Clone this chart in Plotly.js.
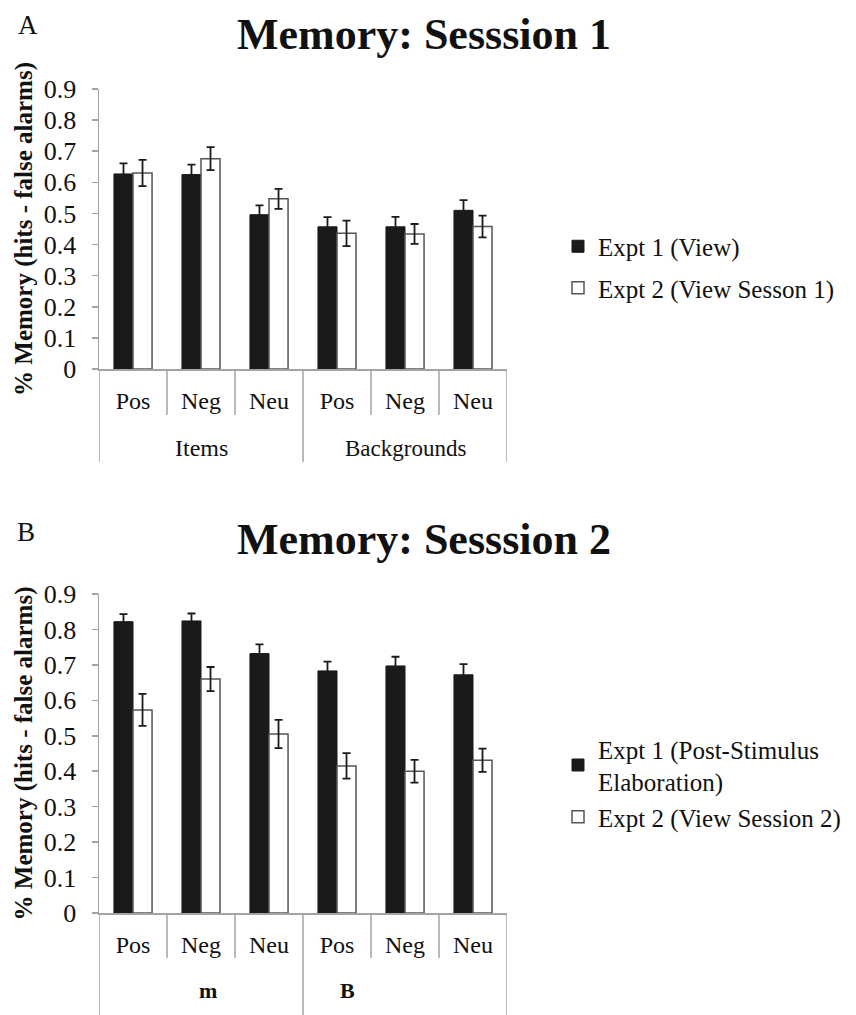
<!DOCTYPE html>
<html>
<head>
<meta charset="utf-8">
<script src="https://cdn.plot.ly/plotly-3.0.1.min.js"></script>
<style>html,body{margin:0;padding:0;background:#fff;}#chart{width:856px;height:1015px;}</style>
</head>
<body>
<div id="chart"></div>
<script>
// ---- data ----
const categories = ['Pos', 'Neg', 'Neu', 'Pos', 'Neg', 'Neu'];
const groups = ['Items', 'Items', 'Items', 'Backgrounds', 'Backgrounds', 'Backgrounds'];
const groupLabelsA = ['Items', 'Backgrounds'];
const groupLabelsB = ['m', 'B'];

const session1Expt1 = [0.627, 0.625, 0.496, 0.457, 0.457, 0.510];
const session1Expt1Err = [0.034, 0.032, 0.030, 0.031, 0.032, 0.033];
const session1Expt2 = [0.630, 0.676, 0.547, 0.436, 0.434, 0.458];
const session1Expt2Err = [0.042, 0.037, 0.032, 0.041, 0.032, 0.035];

const session2Expt1 = [0.822, 0.824, 0.732, 0.683, 0.697, 0.672];
const session2Expt1Err = [0.021, 0.021, 0.026, 0.026, 0.026, 0.030];
const session2Expt2 = [0.573, 0.660, 0.505, 0.415, 0.400, 0.431];
const session2Expt2Err = [0.045, 0.034, 0.040, 0.036, 0.032, 0.033];

const yTickVals = [0, 0.1, 0.2, 0.3, 0.4, 0.5, 0.6, 0.7, 0.8, 0.9];
const yTickText = ['0', '0.1', '0.2', '0.3', '0.4', '0.5', '0.6', '0.7', '0.8', '0.9'];

const namesA = ['Expt 1 (View)', 'Expt 2 (View Sesson 1)'];
const namesB = ['Expt 1 (Post-Stimulus<br>Elaboration)', 'Expt 2 (View Session 2)'];
const titleA = 'Memory: Sesssion 1';
const titleB = 'Memory: Sesssion 2';
const yTitle = '% Memory (hits - false alarms)';

// ---- build ----
const keys = categories.map((c, i) => groups[i] + ' ' + c);
const FONT = '"Liberation Serif", "Times New Roman", Times, serif';
const INK = '#111111';
const GREY = '#a3a3a3';
const W = 856, H = 1015;
const px = v => v / W;
const py = v => 1 - v / H;

function bar(y, err, dark, name, xa, ya, legend) {
  return {
    type: 'bar', x: keys, y: y, name: name, xaxis: xa, yaxis: ya, legend: legend,
    legendgroup: name,
    marker: dark ? {color: '#1a1a1a', line: {color: '#1a1a1a', width: 1}}
                 : {color: '#ffffff', line: {color: '#555555', width: 1.5}},
    error_y: {type: 'data', array: err, visible: true, color: '#1a1a1a', thickness: 1.8, width: 4},
    hoverinfo: 'skip'
  };
}

const data = [
  bar(session1Expt1, session1Expt1Err, true, namesA[0], 'x', 'y', 'legend'),
  bar(session1Expt2, session1Expt2Err, false, namesA[1], 'x', 'y', 'legend'),
  bar(session2Expt1, session2Expt1Err, true, namesB[0], 'x2', 'y2', 'legend2'),
  bar(session2Expt2, session2Expt2Err, false, namesB[1], 'x2', 'y2', 'legend2')
];

function xAxis(anchor) {
  return {
    type: 'category', anchor: anchor, domain: [px(99), px(507)], range: [-0.5, 5.5],
    tickmode: 'array', tickvals: keys, ticktext: categories, ticks: '',
    ticklabelstandoff: 10,
    tickfont: {family: FONT, size: 24, color: INK},
    showline: true, linecolor: GREY, linewidth: 1.5, showgrid: false, zeroline: false, fixedrange: true
  };
}
function yAxis(anchor, dom) {
  return {
    anchor: anchor, domain: dom, range: [0, 0.9],
    tickmode: 'array', tickvals: yTickVals, ticktext: yTickText,
    ticks: 'outside', ticklen: 6, tickwidth: 1.5, tickcolor: GREY,
    ticklabelstandoff: 10,
    tickfont: {family: FONT, size: 26, color: INK},
    showline: true, linecolor: GREY, linewidth: 1.5, showgrid: false, zeroline: false, fixedrange: true,
    title: {text: '<b>' + yTitle + '</b>', font: {family: FONT, size: 25, color: INK}, standoff: 4}
  };
}

const shapes = [];
function dividers(xref, axisY, shortY, longY) {
  for (let i = 0; i <= categories.length; i++) {
    const isLong = (i === 0 || i === categories.length || groups[i] !== groups[i - 1]);
    shapes.push({type: 'line', xref: xref, yref: 'paper', x0: i - 0.5, x1: i - 0.5,
      y0: py(axisY), y1: py(isLong ? longY : shortY), line: {color: GREY, width: 1.5}});
  }
}
dividers('x', 369, 415, 462);
dividers('x2', 913, 958, 1015);

const annotations = [
  {xref: 'paper', yref: 'paper', x: px(424), y: py(34), xanchor: 'center', yanchor: 'middle', showarrow: false,
   text: '<b>' + titleA + '</b>', font: {family: FONT, size: 44, color: INK}},
  {xref: 'paper', yref: 'paper', x: px(424), y: py(539), xanchor: 'center', yanchor: 'middle', showarrow: false,
   text: '<b>' + titleB + '</b>', font: {family: FONT, size: 44, color: INK}},
  {xref: 'paper', yref: 'paper', x: px(28), y: py(25), xanchor: 'center', yanchor: 'middle', showarrow: false,
   text: 'A', font: {family: FONT, size: 27, color: INK}},
  {xref: 'paper', yref: 'paper', x: px(26), y: py(532), xanchor: 'center', yanchor: 'middle', showarrow: false,
   text: 'B', font: {family: FONT, size: 27, color: INK}},
  {xref: 'x', yref: 'paper', x: 1, y: py(448), xanchor: 'center', yanchor: 'middle', showarrow: false,
   text: groupLabelsA[0], font: {family: FONT, size: 24, color: INK}},
  {xref: 'x', yref: 'paper', x: 4, y: py(448), xanchor: 'center', yanchor: 'middle', showarrow: false,
   text: groupLabelsA[1], font: {family: FONT, size: 23, color: INK}},
  {xref: 'x2', yref: 'paper', x: 1.1, y: py(990), xanchor: 'center', yanchor: 'middle', showarrow: false,
   text: '<b>' + groupLabelsB[0] + '</b>', font: {family: FONT, size: 22, color: INK}},
  {xref: 'x2', yref: 'paper', x: 3.15, y: py(990), xanchor: 'center', yanchor: 'middle', showarrow: false,
   text: '<b>' + groupLabelsB[1] + '</b>', font: {family: FONT, size: 22, color: INK}}
];

const legendStyle = {
  xanchor: 'left', yanchor: 'middle', bgcolor: 'rgba(0,0,0,0)', borderwidth: 0,
  font: {family: FONT, size: 25, color: INK}, traceorder: 'grouped', itemclick: false
};

const layout = {
  width: W, height: H, margin: {l: 0, r: 0, t: 0, b: 0},
  paper_bgcolor: '#ffffff', plot_bgcolor: '#ffffff',
  barmode: 'group', bargap: 0.44, bargroupgap: 0,
  showlegend: true,
  xaxis: xAxis('y'), yaxis: yAxis('x', [py(369), py(89)]),
  xaxis2: xAxis('y2'), yaxis2: yAxis('x2', [py(913), py(594)]),
  legend: Object.assign({x: px(558), y: py(267), tracegroupgap: 6}, legendStyle),
  legend2: Object.assign({x: px(558), y: py(783), tracegroupgap: 0}, legendStyle),
  shapes: shapes, annotations: annotations
};

Plotly.newPlot('chart', data, layout, {staticPlot: true, displayModeBar: false});
</script>
</body>
</html>
